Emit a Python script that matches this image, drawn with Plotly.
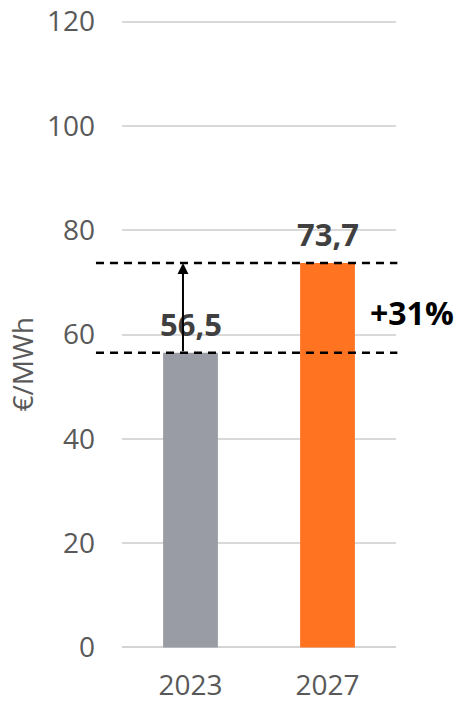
import plotly.graph_objects as go

years = ["2023", "2027"]
values = [56.5, 73.7]
value_labels = ["56,5", "73,7"]
bar_colors = ["#9A9CA5", "#FF7321"]
change_label = "+31%"
y_ticks = [0, 20, 40, 60, 80, 100, 120]
y_title = "€/MWh"

FONT = "Open Sans"
GRAY = "#595959"

fig = go.Figure()
fig.add_trace(go.Bar(
    x=[0, 1], y=values, marker=dict(color=bar_colors, line=dict(width=0)),
    width=0.4, hoverinfo="skip", showlegend=False,
))

# dashed reference lines
for v in values:
    fig.add_shape(type="line", xref="paper", yref="y", x0=-0.095, x1=1.005, y0=v, y1=v,
                  line=dict(color="#000000", width=2.5, dash="8px,6px"), layer="above")

# value labels
for i, (v, lab) in enumerate(zip(values, value_labels)):
    fig.add_annotation(x=i, y=v, text=f"<b>{lab}</b>", showarrow=False, yanchor="bottom",
                       yshift=6, font=dict(family=FONT, size=31, color="#404040"))

# arrow
fig.add_annotation(x=-0.055, y=values[1], ax=-0.055, ay=values[0], xref="x", yref="y",
                   axref="x", ayref="y", showarrow=True, arrowhead=2, arrowsize=1.1,
                   arrowwidth=2, arrowcolor="#000000", text="")

# change label
fig.add_annotation(x=1.06, xref="paper", y=(values[0] + values[1]) / 2 - 0.9, yref="y",
                   text=f"<b>{change_label}</b>", showarrow=False, xanchor="center",
                   yanchor="middle", font=dict(family=FONT, size=32, color="#000000"))

# axis title
fig.add_annotation(x=-0.363, xref="paper", y=0.453, yref="paper", text=y_title,
                   textangle=-90, showarrow=False, xanchor="center", yanchor="middle",
                   font=dict(family=FONT, size=28, color=GRAY))

fig.update_layout(
    width=459, height=703,
    margin=dict(l=122, r=63, t=20, b=54, autoexpand=False),
    paper_bgcolor="white", plot_bgcolor="white",
    font=dict(family=FONT, size=28, color=GRAY),
    xaxis=dict(range=[-0.5, 1.5], tickmode="array", tickvals=[0, 1], ticktext=years,
               showgrid=False, zeroline=False, showline=False, ticks="", automargin=False,
               ticklabelstandoff=17, tickfont=dict(family=FONT, size=28, color=GRAY)),
    yaxis=dict(range=[-0.3, 120.3], tickmode="array", tickvals=y_ticks, automargin=False,
               showgrid=True, gridcolor="#D9D9D9", gridwidth=1.5,
               zeroline=True, zerolinecolor="#D4D4D4", zerolinewidth=2,
               showline=False, ticks="", ticklabelstandoff=26,
               tickfont=dict(family=FONT, size=28, color=GRAY)),
    bargap=0.6,
)

fig.write_html("out.html")
